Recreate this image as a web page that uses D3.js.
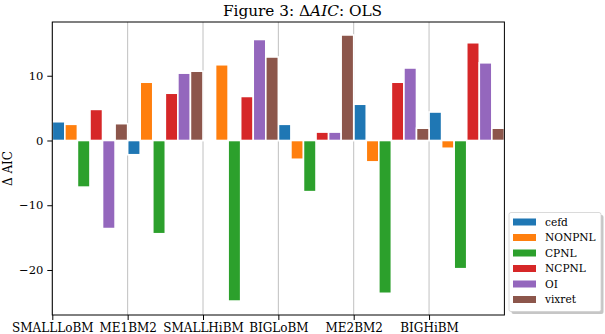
<!DOCTYPE html>
<html><head><meta charset="utf-8">
<script src="https://cdn.jsdelivr.net/npm/d3@7"></script>
<style>
html,body{margin:0;padding:0;background:#fff;}
svg{display:block;}
</style></head>
<body>
<svg id="chart" width="605" height="334"></svg>
<script>
const categories = ["SMALLLoBM","ME1BM2","SMALLHiBM","BIGLoBM","ME2BM2","BIGHiBM"];
const seriesNames = ["cefd","NONPNL","CPNL","NCPNL","OI","vixret"];
const cefd   = [2.9, -2.2, 0.2, 2.5, 5.6, 4.4];
const NONPNL = [2.5, 9.0, 11.7, -2.9, -3.3, -1.2];
const CPNL   = [-7.2, -14.4, -24.8, -7.9, -23.6, -19.8];
const NCPNL  = [4.8, 7.3, 6.8, 1.3, 9.0, 15.1];
const OI     = [-13.6, 10.4, 15.6, 1.3, 11.2, 12.0];
const vixret = [2.6, 10.7, 12.9, 16.3, 1.9, 1.9];
const yTicks = [-20, -10, 0, 10];
const colors = ["#1f77b4","#ff7f0e","#2ca02c","#d62728","#9467bd","#8c564b"];

const FONT = "DejaVu Serif";
const seriesValues = [cefd, NONPNL, CPNL, NCPNL, OI, vixret];
const svg = d3.select("#chart");
const L = 52.3, R = 504.4, T = 22, B = 315;
const x = d3.scaleLinear().domain([0, categories.length]).range([L, R]);
const y = d3.scaleLinear().domain([-26.95, 18.3]).range([B, T]);
const nS = seriesNames.length;

svg.append("g").selectAll("line").data(d3.range(categories.length)).join("line")
  .attr("x1", d => x(d)).attr("x2", d => x(d)).attr("y1", T).attr("y2", B)
  .attr("stroke", "#b0b0b0").attr("stroke-width", 0.8);

const data = [];
seriesValues.forEach((vals, j) => vals.forEach((v, i) => data.push({i, j, v})));
svg.append("g").selectAll("rect").data(data).join("rect")
  .attr("x", d => x(d.i + d.j / nS))
  .attr("width", d => x(1 / nS) - x(0))
  .attr("y", d => y(Math.max(0, d.v)))
  .attr("height", d => Math.abs(y(d.v) - y(0)))
  .attr("fill", d => colors[d.j])
  .attr("stroke", "#fff").attr("stroke-width", 1.6);

svg.append("rect").attr("x", L).attr("y", T).attr("width", R - L).attr("height", B - T)
  .attr("fill", "none").attr("stroke", "#000").attr("stroke-width", 1);

const xAxis = d3.axisBottom(x).tickValues(d3.range(categories.length))
  .tickFormat(d => categories[d]).tickSize(5).tickPadding(3);
const gx = svg.append("g").attr("transform", `translate(0,${B})`).call(xAxis)
  .attr("font-family", FONT);
gx.select(".domain").remove();
gx.selectAll("text").attr("font-family", FONT).attr("font-size", 12).attr("fill", "#000");
gx.selectAll("line").attr("stroke", "#000");

const yAxis = d3.axisLeft(y).tickValues(yTicks)
  .tickFormat(d => d < 0 ? "\u2212" + Math.abs(d) : String(d)).tickSize(5).tickPadding(4);
const gy = svg.append("g").attr("transform", `translate(${L},0)`).call(yAxis)
  .attr("font-family", FONT);
gy.select(".domain").remove();
gy.selectAll("text").attr("font-family", FONT).attr("font-size", 11.5).attr("fill", "#000");
gy.selectAll("line").attr("stroke", "#000");

svg.append("text").attr("transform", "translate(12,168.5) rotate(-90)")
  .attr("font-family", FONT)
  .attr("text-anchor", "middle").attr("font-size", 12).text("\u0394 AIC");

const title = svg.append("text").attr("x", 302.5).attr("y", 15.5)
  .attr("font-family", FONT)
  .attr("text-anchor", "middle").attr("font-size", 15.3);
title.append("tspan").text("Figure 3: \u0394");
title.append("tspan").attr("font-style", "italic").text("AIC");
title.append("tspan").text(": OLS");

const lg = svg.append("g");
const lx = 509, ly = 212.5, lw = 92, lh = 99;
lg.append("rect").attr("x", lx + 2.5).attr("y", ly + 2.5).attr("width", lw).attr("height", lh)
  .attr("rx", 2).attr("fill", "#a0a0a0").attr("opacity", 0.6);
lg.append("rect").attr("x", lx).attr("y", ly).attr("width", lw).attr("height", lh)
  .attr("rx", 2).attr("fill", "#fff").attr("stroke", "#d0d0d0").attr("stroke-width", 0.8);
seriesNames.forEach((name, j) => {
  const cy = ly + 9.5 + j * 15.5;
  lg.append("rect").attr("x", lx + 4).attr("y", cy - 3.5).attr("width", 23).attr("height", 7)
    .attr("fill", colors[j]);
  lg.append("text").attr("x", lx + 36).attr("y", cy + 3.8).attr("font-family", FONT)
    .attr("font-size", 10.6).text(name);
});
</script>
</body></html>
